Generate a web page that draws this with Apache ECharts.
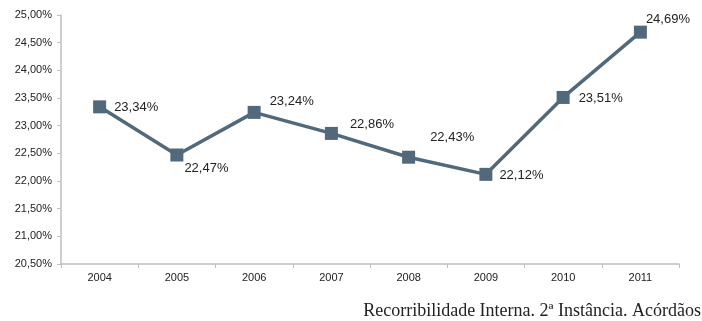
<!DOCTYPE html>
<html>
<head>
<meta charset="utf-8">
<script src="https://cdn.jsdelivr.net/npm/echarts@6/dist/echarts.min.js"></script>
<style>
  html, body { margin: 0; padding: 0; background: #fff; }
  #chart { width: 702px; height: 321px; }
</style>
</head>
<body>
<div id="chart"></div>
<script>
// Anos e taxa de recorribilidade interna (%)
const years = ['2004', '2005', '2006', '2007', '2008', '2009', '2010', '2011'];
const rates = [23.34, 22.47, 23.24, 22.86, 22.43, 22.12, 23.51, 24.69];
// Deslocamento de cada rótulo em relação ao marcador
const labelOffsets = [[4, 1], [-3, 13], [5, -11], [8, -9], [11, -20], [3, 1], [5, 1], [-5, -13]];
const caption = 'Recorribilidade Interna. 2ª Instância. Acórdãos';

const pct = v => v.toFixed(2).replace('.', ',') + '%';

const chart = echarts.init(document.getElementById('chart'));
chart.setOption({
  animation: false,
  backgroundColor: '#ffffff',
  title: {
    text: caption,
    right: 1,
    bottom: 1,
    padding: 0,
    textStyle: {
      fontFamily: '"Liberation Serif", "DejaVu Serif", serif',
      fontSize: 18,
      fontWeight: 'normal',
      color: '#222'
    }
  },
  grid: { left: 61, right: 23, top: 15, bottom: 57 },
  xAxis: {
    type: 'category',
    data: years,
    boundaryGap: true,
    axisLine: { lineStyle: { color: '#bfbfbf', width: 1.5 } },
    axisTick: { show: true, length: 4, lineStyle: { color: '#bfbfbf' } },
    axisLabel: {
      color: '#222',
      fontSize: 11,
      fontFamily: '"Liberation Sans", Arial, sans-serif',
      margin: 8
    }
  },
  yAxis: {
    type: 'value',
    min: 20.5,
    max: 25,
    interval: 0.5,
    axisLine: { show: true, lineStyle: { color: '#bfbfbf', width: 1.5 } },
    axisTick: { show: true, length: 4, lineStyle: { color: '#bfbfbf' } },
    splitLine: { show: false },
    axisLabel: {
      color: '#222',
      fontSize: 11,
      fontFamily: '"Liberation Sans", Arial, sans-serif',
      margin: 9,
      formatter: v => pct(v)
    }
  },
  series: [{
    type: 'line',
    data: rates.map((v, i) => ({
      value: v,
      label: { offset: labelOffsets[i] }
    })),
    symbol: 'rect',
    symbolSize: 13,
    itemStyle: { color: '#51697a' },
    lineStyle: { color: '#51697a', width: 3.5 },
    label: {
      show: true,
      position: 'right',
      distance: 4,
      color: '#222',
      fontSize: 13,
      fontFamily: '"Liberation Sans", Arial, sans-serif',
      formatter: p => pct(p.value)
    }
  }]
});
</script>
</body>
</html>
